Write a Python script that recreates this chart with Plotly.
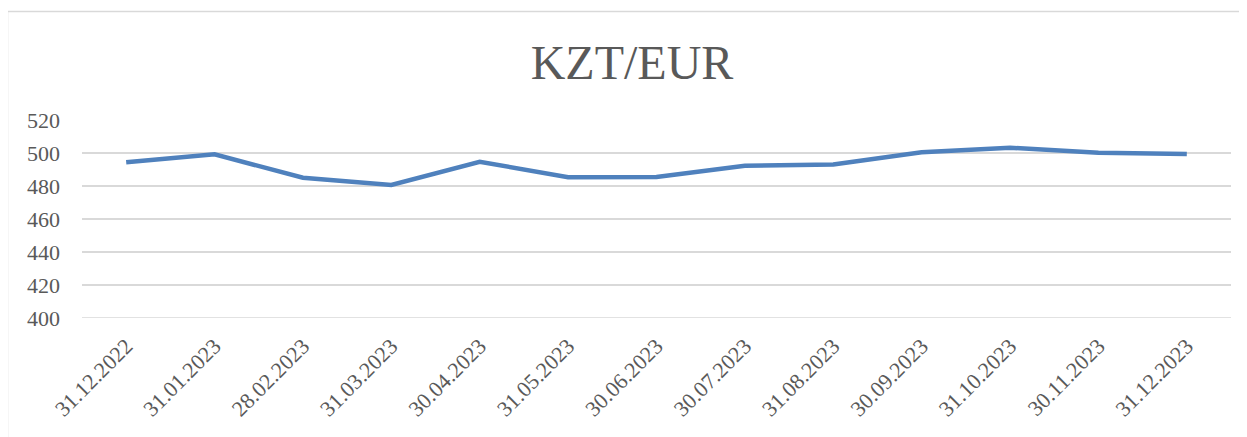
import plotly.graph_objects as go

dates = ["31.12.2022", "31.01.2023", "28.02.2023", "31.03.2023", "30.04.2023",
         "31.05.2023", "30.06.2023", "30.07.2023", "31.08.2023", "30.09.2023",
         "31.10.2023", "30.11.2023", "31.12.2023"]
kzt_eur = [494.4, 499.2, 485.0, 480.6, 494.7, 485.3, 485.5, 492.3, 493.1,
           500.5, 503.2, 500.2, 499.4]
y_ticks = [400, 420, 440, 460, 480, 500, 520]

W, H = 1247, 437
OFF = 8  # page body margin
L, R, T, B = 82 - OFF, 24, 120 - OFF, 127
pw, ph = W - L - R, H - T - B

def px_x(x):
    return (x - OFF - L) / pw

def px_y(y):
    return (H - B - (y - OFF)) / ph

fig = go.Figure()
fig.add_trace(go.Scatter(
    x=dates, y=kzt_eur, mode="lines",
    line=dict(color="#4f81bd", width=4.5),
    hoverinfo="x+y", showlegend=False,
))

font_family = "Liberation Serif, Times New Roman, serif"
fig.update_layout(
    width=W, height=H,
    margin=dict(l=L, r=R, t=T, b=B, autoexpand=False),
    paper_bgcolor="white", plot_bgcolor="white",
    title=dict(text="KZT/EUR", x=(632 - OFF) / W, xanchor="center",
               xref="container", y=1 - (62 - OFF) / H, yanchor="middle",
               font=dict(family=font_family, size=48, color="#595959")),
    font=dict(family=font_family, color="#595959"),
    xaxis=dict(
        type="category", tickangle=-45, showgrid=False, showline=False,
        zeroline=False, ticks="", range=[-0.5, len(dates) - 0.5],
        automargin=False, ticklabelshift=0, ticklabelstandoff=10,
        tickfont=dict(size=22, color="#595959"),
    ),
    yaxis=dict(
        range=[400, 520], tickvals=y_ticks, showgrid=True, gridcolor="#d9d9d9",
        gridwidth=1.5, zeroline=False, showline=False, ticks="",
        automargin=False,
        ticklabelstandoff=21, tickfont=dict(size=22, color="#595959"),
    ),
    shapes=[
        dict(type="line", xref="paper", yref="paper",
             x0=px_x(7.5), x1=px_x(1247), y0=px_y(11.5), y1=px_y(11.5),
             line=dict(color="#d9d9d9", width=1.5)),
        dict(type="line", xref="paper", yref="paper",
             x0=px_x(7.5), x1=px_x(7.5), y0=px_y(11.5), y1=px_y(437),
             line=dict(color="#d9d9d9", width=1.5)),
        dict(type="line", xref="paper", yref="y",
             x0=0, x1=1, y0=400, y1=400,
             line=dict(color="#d9d9d9", width=1.5), layer="below"),
    ],
)

fig.write_html("out.html")
